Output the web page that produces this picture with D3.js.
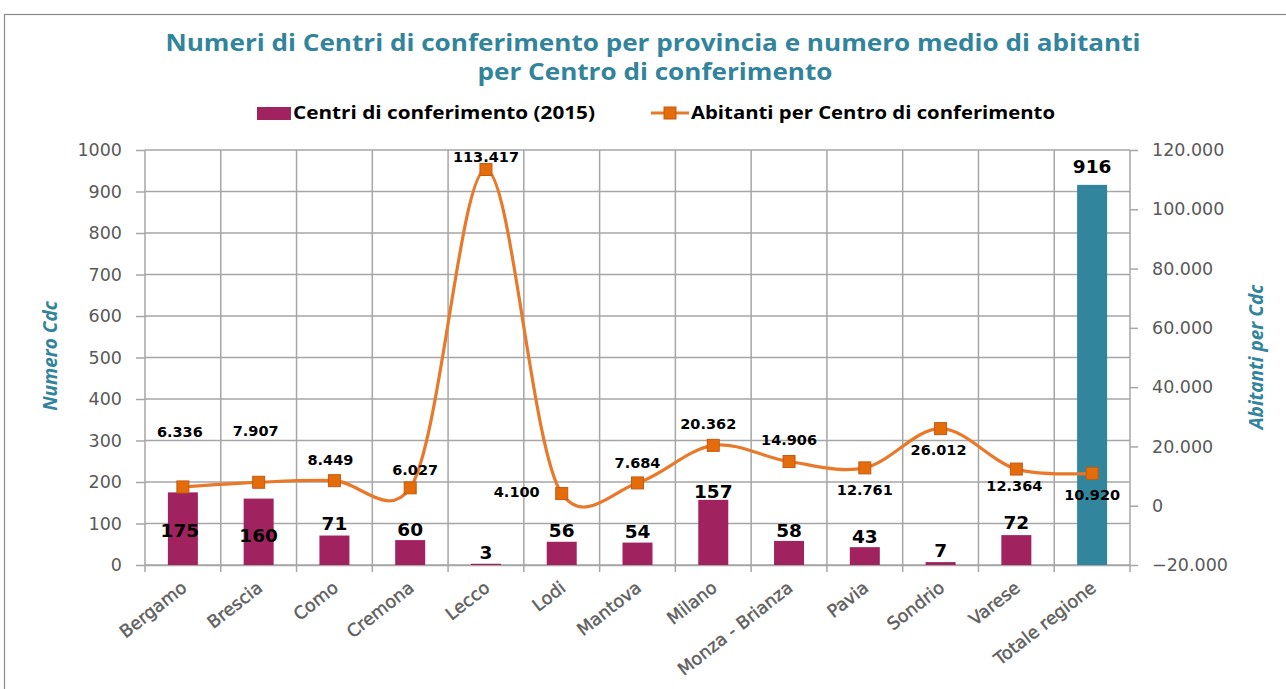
<!DOCTYPE html>
<html><head><meta charset="utf-8">
<script src="https://cdn.jsdelivr.net/npm/d3@7"></script>
<style>
html,body{margin:0;padding:0;background:#fff;}
svg{display:block;}
</style></head>
<body>
<svg id="c" width="1286" height="689"></svg>
<script>
const categories = ["Bergamo","Brescia","Como","Cremona","Lecco","Lodi","Mantova","Milano","Monza - Brianza","Pavia","Sondrio","Varese","Totale regione"];
const centri = [175,160,71,60,3,56,54,157,58,43,7,72,916];
const abitanti = [6336,7907,8449,6027,113417,4100,7684,20362,14906,12761,26012,12364,10920];
const leftTicks = [0,100,200,300,400,500,600,700,800,900,1000];
const rightTicks = [-20000,0,20000,40000,60000,80000,100000,120000];
// label offsets (pixels) relative to marker / bar top
const lineLabelOffsets = [[-3,-55],[-3,-51],[-4,-21],[5,-18],[0,-13],[-45,-2],[0,-20],[-5,-22],[0,-22],[0,22],[-2,21],[-2,17],[0,21]];
const barLabelOffsets = [[-3,38],[0,37],[0,-12],[0,-11],[0,-11],[0,-11],[0,-11],[0,-9],[0,-11],[0,-11],[0,-12],[0,-13],[0,-19]];

const svg = d3.select("#c");
const m = {l:145, r:1130, t:150, b:565};
const x = d3.scaleBand().domain(categories).range([m.l, m.r]).paddingInner(0).paddingOuter(0);
const yL = d3.scaleLinear().domain([0,1000]).range([m.b, m.t]);
const yR = d3.scaleLinear().domain([-20000,120000]).range([m.b, m.t]);
const grid = "#a6a6a6";
const fmt = v => d3.format(",")(v).replace(/,/g,".");

// border
svg.append("rect").attr("x",4.5).attr("y",14.5).attr("width",1290).attr("height",700)
  .attr("fill","none").attr("stroke","#8c8c8c").attr("stroke-width",1.2);

// title
const title = svg.append("g").attr("font-family","Open Sans, sans-serif").attr("font-weight","bold")
  .attr("fill","#31849b").attr("text-anchor","middle").attr("font-size",23);
title.append("text").attr("x",653).attr("y",51).attr("textLength",975).attr("lengthAdjust","spacingAndGlyphs")
  .text("Numeri di Centri di conferimento per provincia e numero medio di abitanti");
title.append("text").attr("x",655).attr("y",80).attr("textLength",355).attr("lengthAdjust","spacingAndGlyphs")
  .text("per Centro di conferimento");

// legend
const lg = svg.append("g").attr("font-family","Open Sans, sans-serif").attr("font-weight","bold").attr("font-size",17).attr("fill","#000");
lg.append("rect").attr("x",257).attr("y",107).attr("width",34).attr("height",13).attr("fill","#a0235f");
lg.append("text").attr("x",293).attr("y",119).attr("textLength",302).attr("lengthAdjust","spacingAndGlyphs").text("Centri di conferimento (2015)");
lg.append("line").attr("x1",651).attr("x2",689).attr("y1",113).attr("y2",113).attr("stroke","#e8792a").attr("stroke-width",3);
lg.append("rect").attr("x",664).attr("y",107).attr("width",12).attr("height",12).attr("fill","#e46c0a").attr("stroke","#c55a11");
lg.append("text").attr("x",691).attr("y",119).attr("textLength",364).attr("lengthAdjust","spacingAndGlyphs").text("Abitanti per Centro di conferimento");

// horizontal gridlines
svg.append("g").selectAll("line").data(leftTicks).join("line")
  .attr("x1",m.l).attr("x2",m.r).attr("y1",d=>yL(d)).attr("y2",d=>yL(d))
  .attr("stroke",grid).attr("stroke-width",1.5);
// vertical gridlines at category boundaries
const bounds = categories.map(c=>x(c)).concat([m.r]);
svg.append("g").selectAll("line").data(bounds).join("line")
  .attr("x1",d=>d).attr("x2",d=>d).attr("y1",m.t).attr("y2",m.b+7)
  .attr("stroke",grid).attr("stroke-width",1.5);

// left axis
const axL = svg.append("g").attr("transform",`translate(${m.l},0)`)
  .call(d3.axisLeft(yL).tickValues(leftTicks).tickSize(9).tickPadding(14).tickFormat(d=>d));
axL.select(".domain").remove();
axL.selectAll("line").attr("stroke",grid).attr("stroke-width",1.5);
axL.selectAll("text").attr("font-family","DejaVu Sans, sans-serif").attr("font-size",17.5).attr("fill","#595959");

// right axis
const axR = svg.append("g").attr("transform",`translate(${m.r},0)`)
  .call(d3.axisRight(yR).tickValues(rightTicks).tickSize(8).tickPadding(14).tickFormat(fmt));
axR.select(".domain").remove();
axR.selectAll("line").attr("stroke",grid).attr("stroke-width",1.5);
axR.selectAll("text").attr("font-family","DejaVu Sans, sans-serif").attr("font-size",17.5).attr("fill","#595959");

// bottom axis labels
const axB = svg.append("g").attr("transform",`translate(0,${m.b})`)
  .call(d3.axisBottom(x).tickSize(0).tickPadding(0));
axB.select(".domain").attr("stroke",grid).attr("stroke-width",1.5);
axB.selectAll("text").attr("font-family","DejaVu Sans, sans-serif").attr("font-size",17.5)
  .attr("fill","#5f5f5f").attr("stroke","#5f5f5f").attr("stroke-width",0.45)
  .attr("text-anchor","end").attr("dy",0).attr("transform","translate(5,25) rotate(-38)");

// axis titles
svg.append("text").attr("transform","translate(57,356) rotate(-90)").attr("text-anchor","middle")
  .attr("font-family","Open Sans, sans-serif").attr("font-weight","bold").attr("font-style","italic")
  .attr("font-size",19).attr("fill","#31849b").text("Numero Cdc");
svg.append("text").attr("transform","translate(1263,357) rotate(-90)").attr("text-anchor","middle")
  .attr("font-family","Open Sans, sans-serif").attr("font-weight","bold").attr("font-style","italic")
  .attr("font-size",19).attr("fill","#31849b").text("Abitanti per Cdc");

// bars
const bw = 30;
svg.append("g").selectAll("rect").data(centri).join("rect")
  .attr("x",(d,i)=>x(categories[i])+x.bandwidth()/2-bw/2).attr("width",bw)
  .attr("y",d=>yL(d)).attr("height",d=>yL(0)-yL(d))
  .attr("fill",(d,i)=>i===categories.length-1?"#31859c":"#a0235f");

// bar labels
svg.append("g").selectAll("text").data(centri).join("text")
  .attr("x",(d,i)=>x(categories[i])+x.bandwidth()/2+barLabelOffsets[i][0])
  .attr("y",(d,i)=>yL(d)+barLabelOffsets[i][1])
  .attr("dy","0.36em").attr("text-anchor","middle")
  .attr("font-family","DejaVu Sans, sans-serif").attr("font-weight","bold").attr("font-size",18.5).attr("fill","#000")
  .text(d=>d);

// line
const cx = i => x(categories[i])+x.bandwidth()/2;
const line = d3.line().x((d,i)=>cx(i)).y(d=>yR(d)).curve(d3.curveCatmullRom.alpha(0.2));
svg.append("path").datum(abitanti).attr("d",line).attr("fill","none")
  .attr("stroke","#e8792a").attr("stroke-width",3.2);
svg.append("g").selectAll("rect").data(abitanti).join("rect")
  .attr("x",(d,i)=>cx(i)-6).attr("y",d=>yR(d)-6).attr("width",12).attr("height",12)
  .attr("fill","#e46c0a").attr("stroke","#c55a11").attr("stroke-width",1);

// line labels
svg.append("g").selectAll("text").data(abitanti).join("text")
  .attr("x",(d,i)=>cx(i)+lineLabelOffsets[i][0])
  .attr("y",(d,i)=>yR(d)+lineLabelOffsets[i][1])
  .attr("dy","0.36em").attr("text-anchor","middle")
  .attr("font-family","DejaVu Sans, sans-serif").attr("font-weight","bold").attr("font-size",14.5).attr("fill","#000")
  .text(fmt);
</script>
</body></html>
